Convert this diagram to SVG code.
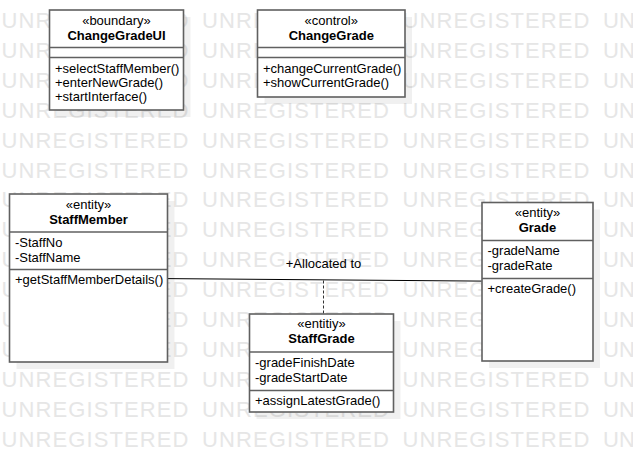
<svg xmlns="http://www.w3.org/2000/svg" width="633" height="452" viewBox="0 0 633 452">
<style>
.bg{fill:#ffffff}
.wm{font-family:"Liberation Sans",Arial,sans-serif;font-size:22px;fill:#e6e6e6}
.shadow{fill:#000000;fill-opacity:0.06}
.box{fill:#ffffff;stroke:#606060;stroke-width:1.6}
.div{stroke:#606060;stroke-width:1.6;fill:none}
.t{font-family:"Liberation Sans",Arial,sans-serif;font-size:13px;fill:#000000}
.st{text-anchor:middle}
.nm{font-weight:bold;text-anchor:middle}
.assoc{stroke:#000000;stroke-width:1;fill:none}
.dash{stroke:#333333;stroke-width:1;stroke-dasharray:3 2;fill:none}
</style>
<rect class="bg" x="0" y="0" width="633" height="452"/>
<g id="watermark" class="wm">
<text y="28"><tspan x="1.5" textLength="187">UNREGISTERED</tspan><tspan x="202" textLength="187">UNREGISTERED</tspan><tspan x="402.5" textLength="187">UNREGISTERED</tspan><tspan x="603">UN</tspan></text>
<text y="57.9"><tspan x="1.5" textLength="187">UNREGISTERED</tspan><tspan x="202" textLength="187">UNREGISTERED</tspan><tspan x="402.5" textLength="187">UNREGISTERED</tspan><tspan x="603">UN</tspan></text>
<text y="87.8"><tspan x="1.5" textLength="187">UNREGISTERED</tspan><tspan x="202" textLength="187">UNREGISTERED</tspan><tspan x="402.5" textLength="187">UNREGISTERED</tspan><tspan x="603">UN</tspan></text>
<text y="117.7"><tspan x="1.5" textLength="187">UNREGISTERED</tspan><tspan x="202" textLength="187">UNREGISTERED</tspan><tspan x="402.5" textLength="187">UNREGISTERED</tspan><tspan x="603">UN</tspan></text>
<text y="147.6"><tspan x="1.5" textLength="187">UNREGISTERED</tspan><tspan x="202" textLength="187">UNREGISTERED</tspan><tspan x="402.5" textLength="187">UNREGISTERED</tspan><tspan x="603">UN</tspan></text>
<text y="177.5"><tspan x="1.5" textLength="187">UNREGISTERED</tspan><tspan x="202" textLength="187">UNREGISTERED</tspan><tspan x="402.5" textLength="187">UNREGISTERED</tspan><tspan x="603">UN</tspan></text>
<text y="207.4"><tspan x="1.5" textLength="187">UNREGISTERED</tspan><tspan x="202" textLength="187">UNREGISTERED</tspan><tspan x="402.5" textLength="187">UNREGISTERED</tspan><tspan x="603">UN</tspan></text>
<text y="237.3"><tspan x="1.5" textLength="187">UNREGISTERED</tspan><tspan x="202" textLength="187">UNREGISTERED</tspan><tspan x="402.5" textLength="187">UNREGISTERED</tspan><tspan x="603">UN</tspan></text>
<text y="267.2"><tspan x="1.5" textLength="187">UNREGISTERED</tspan><tspan x="202" textLength="187">UNREGISTERED</tspan><tspan x="402.5" textLength="187">UNREGISTERED</tspan><tspan x="603">UN</tspan></text>
<text y="297.1"><tspan x="1.5" textLength="187">UNREGISTERED</tspan><tspan x="202" textLength="187">UNREGISTERED</tspan><tspan x="402.5" textLength="187">UNREGISTERED</tspan><tspan x="603">UN</tspan></text>
<text y="327"><tspan x="1.5" textLength="187">UNREGISTERED</tspan><tspan x="202" textLength="187">UNREGISTERED</tspan><tspan x="402.5" textLength="187">UNREGISTERED</tspan><tspan x="603">UN</tspan></text>
<text y="356.9"><tspan x="1.5" textLength="187">UNREGISTERED</tspan><tspan x="202" textLength="187">UNREGISTERED</tspan><tspan x="402.5" textLength="187">UNREGISTERED</tspan><tspan x="603">UN</tspan></text>
<text y="386.8"><tspan x="1.5" textLength="187">UNREGISTERED</tspan><tspan x="202" textLength="187">UNREGISTERED</tspan><tspan x="402.5" textLength="187">UNREGISTERED</tspan><tspan x="603">UN</tspan></text>
<text y="416.7"><tspan x="1.5" textLength="187">UNREGISTERED</tspan><tspan x="202" textLength="187">UNREGISTERED</tspan><tspan x="402.5" textLength="187">UNREGISTERED</tspan><tspan x="603">UN</tspan></text>
<text y="446.6"><tspan x="1.5" textLength="187">UNREGISTERED</tspan><tspan x="202" textLength="187">UNREGISTERED</tspan><tspan x="402.5" textLength="187">UNREGISTERED</tspan><tspan x="603">UN</tspan></text>
</g>
<g id="connectors">
<line class="assoc" x1="167.3" y1="278.6" x2="481.7" y2="281.1"/>
<line class="dash" x1="323.5" y1="280.5" x2="323.5" y2="314"/>
<text class="t st" x="323.5" y="268">+Allocated to</text>
</g>
<g id="ChangeGradeUI">
<rect class="shadow" x="56.5" y="17" width="134" height="100"/>
<rect class="box" x="49.5" y="10" width="134" height="100"/>
<line class="div" x1="49.5" y1="47.5" x2="183.5" y2="47.5"/>
<line class="div" x1="49.5" y1="57.5" x2="183.5" y2="57.5"/>
<text class="t st" x="116.5" y="25">«boundary»</text>
<text class="t nm" x="116.5" y="39.5">ChangeGradeUI</text>
<text class="t" x="55" y="72.5">+selectStaffMember()</text>
<text class="t" x="55" y="86.5">+enterNewGrade()</text>
<text class="t" x="55" y="100.5">+startInterface()</text>
</g>
<g id="ChangeGrade">
<rect class="shadow" x="264.5" y="17" width="147.5" height="87"/>
<rect class="box" x="257.5" y="10" width="147.5" height="87"/>
<line class="div" x1="257.5" y1="47.5" x2="405" y2="47.5"/>
<line class="div" x1="257.5" y1="57.5" x2="405" y2="57.5"/>
<text class="t st" x="331.25" y="25">«control»</text>
<text class="t nm" x="331.25" y="39.5">ChangeGrade</text>
<text class="t" x="263" y="72.5">+changeCurrentGrade()</text>
<text class="t" x="263" y="86.5">+showCurrentGrade()</text>
</g>
<g id="StaffMember">
<rect class="shadow" x="16.5" y="201" width="158" height="168"/>
<rect class="box" x="9.5" y="194" width="158" height="168"/>
<line class="div" x1="9.5" y1="232" x2="167.5" y2="232"/>
<line class="div" x1="9.5" y1="269.5" x2="167.5" y2="269.5"/>
<text class="t st" x="88.5" y="209">«entity»</text>
<text class="t nm" x="88.5" y="223.5">StaffMember</text>
<text class="t" x="15" y="246.5">-StaffNo</text>
<text class="t" x="15" y="261.5">-StaffName</text>
<text class="t" x="15" y="284">+getStaffMemberDetails()</text>
</g>
<g id="Grade">
<rect class="shadow" x="489" y="209.5" width="111" height="158.5"/>
<rect class="box" x="482" y="202.5" width="111" height="158.5"/>
<line class="div" x1="482" y1="240.5" x2="593" y2="240.5"/>
<line class="div" x1="482" y1="278.5" x2="593" y2="278.5"/>
<text class="t st" x="537.5" y="216.5">«entity»</text>
<text class="t nm" x="537.5" y="231.5">Grade</text>
<text class="t" x="487.5" y="255">-gradeName</text>
<text class="t" x="487.5" y="270">-gradeRate</text>
<text class="t" x="487.5" y="293">+createGrade()</text>
</g>
<g id="StaffGrade">
<rect class="shadow" x="256.5" y="321" width="144" height="98"/>
<rect class="box" x="249.5" y="314" width="144" height="98"/>
<line class="div" x1="249.5" y1="352" x2="393.5" y2="352"/>
<line class="div" x1="249.5" y1="390.5" x2="393.5" y2="390.5"/>
<text class="t st" x="321.5" y="328">«entitiy»</text>
<text class="t nm" x="321.5" y="343">StaffGrade</text>
<text class="t" x="255" y="366.5">-gradeFinishDate</text>
<text class="t" x="255" y="381.5">-gradeStartDate</text>
<text class="t" x="255" y="404.5">+assignLatestGrade()</text>
</g>
</svg>
